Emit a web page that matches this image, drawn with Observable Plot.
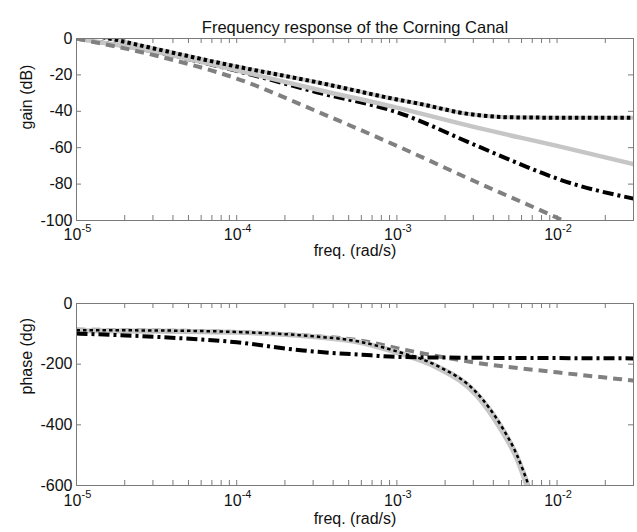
<!DOCTYPE html>
<html>
<head>
<meta charset="utf-8">
<script src="https://cdn.jsdelivr.net/npm/d3@7"></script>
<script src="https://cdn.jsdelivr.net/npm/@observablehq/plot@0.6"></script>
<style>
  body { margin: 0; background: #fff; }
  svg { display: block; }
</style>
</head>
<body>
<div id="chart"></div>
<script>
// ---------- data ----------
const titleText = "Frequency response of the Corning Canal";
const xLabelText = "freq. (rad/s)";
const gainLabel = "gain (dB)";
const phaseLabel = "phase (dg)";

const xMajor = [1e-5, 1e-4, 1e-3, 1e-2];
const xExp = ["-5", "-4", "-3", "-2"];
const gainTicks = [0, -20, -40, -60, -80, -100];
const phaseTicks = [0, -200, -400, -600];

// gain (dB)
const gainSolidF = [1e-5, 3.16e-5, 1e-4, 3.16e-4, 1e-3, 3.16e-3, 1e-2, 3e-2];
const gainSolidV = [0, -7.5, -17.5, -28, -38, -49, -59, -69];

const gainDotF = [1e-5, 1.6e-5, 3.16e-5, 1e-4, 3.16e-4, 1e-3, 1.5e-3, 2e-3, 2.5e-3, 3.16e-3, 4e-3, 5e-3, 1e-2, 3e-2];
const gainDotV = [3.5, 0, -5.8, -15.4, -24, -33.5, -36.5, -39, -40.8, -42, -42.9, -43.3, -43.5, -43.5];

const gainDashDotF = [1e-5, 3.16e-5, 1e-4, 3.16e-4, 1e-3, 3.16e-3, 7.9e-3, 1e-2, 3e-2];
const gainDashDotV = [0, -7.5, -17.8, -29.5, -40.5, -59, -73.6, -77, -88];

const gainDashF = [1e-5, 3.16e-5, 1e-4, 3.16e-4, 1e-3, 3.16e-3, 1e-2, 1.2e-2];
const gainDashV = [0, -9.5, -22, -40, -59, -79, -98.5, -101.7];

// phase (deg)
const phaseSolidF = [1e-5, 3.16e-5, 1e-4, 3.16e-4, 5.6e-4, 1e-3, 1.78e-3, 3.16e-3, 4.5e-3, 5.6e-3, 6.5e-3];
const phaseSolidV = [-91, -92, -96, -111, -127, -163, -212, -305, -420, -512, -605];

const phaseDotF = [1e-5, 3.16e-5, 1e-4, 3.16e-4, 5.6e-4, 1e-3, 1.78e-3, 3.16e-3, 4.5e-3, 5.6e-3, 6.7e-3];
const phaseDotV = [-88, -89, -94, -109, -124, -158, -205, -295, -405, -498, -605];

const phaseDashF = [1e-5, 3.16e-5, 1e-4, 3.16e-4, 5.6e-4, 1e-3, 1.5e-3, 3e-3, 1e-2, 3e-2];
const phaseDashV = [-86, -89, -94, -108, -120, -147, -166, -194, -227, -254];

const phaseDashDotF = [1e-5, 3.16e-5, 1e-4, 2.6e-4, 6.9e-4, 1e-3, 3.16e-3, 1e-2, 3e-2];
const phaseDashDotV = [-99, -110, -128, -155, -171, -176, -179, -180, -181];

// ---------- drawing ----------
const W = 637, FW = 557, FH = 182;
const FONT = "'Liberation Sans', Arial, Helvetica, sans-serif";
const AX = "#7a7a7a";
const xAllTicks = d3.scaleLog().domain([1e-5, 0.03]).ticks();

const styles = {
  solid:   {stroke: "#c6c6c6", strokeWidth: 4.5},
  dash:    {stroke: "#808080", strokeWidth: 4, strokeDasharray: "9,6"},
  dashdot: {stroke: "#000", strokeWidth: 4, strokeDasharray: "11,4,3,4"},
  dot:     {stroke: "#000", strokeWidth: 4, strokeDasharray: "3.5,3", under: "#c8c8c8"}
};

function panel(o) {
  const marks = [];
  for (const s of o.series) {
    const st = styles[s.style];
    const data = s.f.map((f, i) => ({f, v: s.v[i]}));
    if (st.under) marks.push(Plot.line(data, {x: "f", y: "v", stroke: st.under, strokeWidth: st.strokeWidth, curve: "monotone-x", clip: true}));
    marks.push(Plot.line(data, {x: "f", y: "v", stroke: st.stroke, strokeWidth: s.width || st.strokeWidth,
      strokeDasharray: st.strokeDasharray, strokeLinecap: "butt", curve: "monotone-x", clip: true}));
  }
  marks.push(Plot.frame({stroke: AX}));
  marks.push(Plot.tickX(xAllTicks, {x: d => d, insetTop: FH - 5, stroke: AX}));
  marks.push(Plot.tickX(xAllTicks, {x: d => d, insetBottom: FH - 5, stroke: AX}));
  marks.push(Plot.tickY(o.yTicks, {y: d => d, insetRight: FW - 5, stroke: AX}));
  marks.push(Plot.tickY(o.yTicks, {y: d => d, insetLeft: FW - 5, stroke: AX}));
  marks.push(Plot.text(o.yTicks, {y: d => d, text: d => String(d), frameAnchor: "left", textAnchor: "end", dx: -4, fontSize: 16, fill: "#111"}));
  marks.push(Plot.text(xMajor, {x: d => d, text: () => "10", frameAnchor: "bottom", dx: -4, dy: o.tickDy, fontSize: 16, fill: "#111"}));
  marks.push(Plot.text(xMajor, {x: d => d, text: (d, i) => xExp[i], frameAnchor: "bottom", textAnchor: "start", dx: 5, dy: o.tickDy - 8, fontSize: 11, fill: "#111"}));
  marks.push(Plot.text([xLabelText], {frameAnchor: "bottom", dy: o.labelDy, fontSize: 16, fill: "#111"}));
  marks.push(Plot.text([o.yLabel], {frameAnchor: "left", rotate: -90, dx: -50, fontSize: 16, fill: "#111"}));
  if (o.title) marks.push(Plot.text([o.title], {frameAnchor: "top", dy: -17, fontSize: 16.5, fill: "#111"}));
  return Plot.plot({
    width: W, height: o.height,
    marginLeft: 76, marginRight: 4, marginTop: 38, marginBottom: o.height - 38 - FH,
    style: {fontFamily: FONT, background: "#fff"},
    x: {type: "log", domain: [1e-5, 0.03], axis: null},
    y: {domain: o.yDomain, axis: null},
    marks
  });
}

const gainPlot = panel({
  height: 265, yDomain: [-100, 0], yTicks: gainTicks, yLabel: gainLabel, title: titleText,
  tickDy: 19.5, labelDy: 35,
  series: [
    {f: gainDashDotF, v: gainDashDotV, style: "dashdot"},
    {f: gainSolidF, v: gainSolidV, style: "solid"},
    {f: gainDashF, v: gainDashV, style: "dash"},
    {f: gainDotF, v: gainDotV, style: "dot"}
  ]
});
const phasePlot = panel({
  height: 267, yDomain: [-600, 0], yTicks: phaseTicks, yLabel: phaseLabel,
  tickDy: 20.5, labelDy: 38,
  series: [
    {f: phaseSolidF, v: phaseSolidV, style: "solid"},
    {f: phaseDashF, v: phaseDashV, style: "dash"},
    {f: phaseDotF, v: phaseDotV, style: "dot", width: 2.5},
    {f: phaseDashDotF, v: phaseDashDotV, style: "dashdot"}
  ]
});
const root = document.getElementById("chart");
root.appendChild(gainPlot);
root.appendChild(phasePlot);
</script>
</body>
</html>
